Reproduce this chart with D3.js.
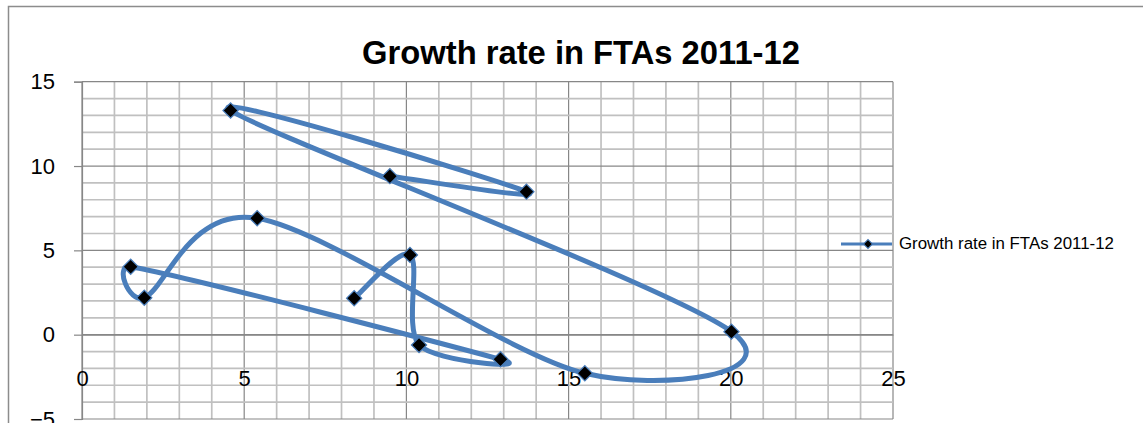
<!DOCTYPE html>
<html>
<head>
<meta charset="utf-8">
<script src="https://cdn.jsdelivr.net/npm/d3@7"></script>
<style>
  html, body { margin: 0; padding: 0; background: #fff; }
  svg { display: block; font-family: "Liberation Sans", Arial, sans-serif; }
</style>
</head>
<body>
<svg id="chart" width="1143" height="423"></svg>
<script>
// Series points, in plotting order
const seriesName = "Growth rate in FTAs 2011-12";
const xValues = [9.49, 13.70, 4.58, 20.02, 15.50, 5.40, 1.92, 1.50, 12.90, 10.39, 10.11, 8.39];
const yValues = [9.40, 8.48, 13.29, 0.18, -2.29, 6.90, 2.19, 4.03, -1.46, -0.61, 4.73, 2.16];
const xTicks = [0, 5, 10, 15, 20, 25];
const yTicks = [-5, 0, 5, 10, 15];

const svg = d3.select("#chart");

const x = d3.scaleLinear().domain([0, 25]).range([82, 893]);
const y = d3.scaleLinear().domain([-5, 15]).range([419, 81.7]);

// chart frame (runs past the right and bottom edges)
svg.append("rect")
  .attr("x", 8.5).attr("y", 6.5)
  .attr("width", 1160).attr("height", 430)
  .attr("fill", "#fff").attr("stroke", "#8c8c8c").attr("stroke-width", 1.5);

// gridlines every unit, darker every five
const g = svg.append("g");
g.selectAll("line.v").data(d3.range(0, 26)).join("line")
  .attr("x1", d => x(d)).attr("x2", d => x(d))
  .attr("y1", y(15)).attr("y2", y(-5))
  .attr("stroke", d => d % 5 === 0 ? "#878787" : "#c0c0c0")
  .attr("stroke-width", d => d % 5 === 0 ? 1.2 : 1.7);
g.selectAll("line.h").data(d3.range(-5, 16)).join("line")
  .attr("y1", d => y(d)).attr("y2", d => y(d))
  .attr("x1", x(0)).attr("x2", x(25))
  .attr("stroke", d => d % 5 === 0 ? "#878787" : "#c0c0c0")
  .attr("stroke-width", d => d % 5 === 0 ? 1.2 : 1.7);

// y axis with outside ticks
const yAxis = d3.axisLeft(y).tickValues(yTicks).tickSize(8).tickPadding(19);
const ya = svg.append("g").attr("transform", `translate(${x(0)},0)`).call(yAxis);
ya.select(".domain").attr("stroke", "#878787").attr("stroke-width", 1.2);
ya.selectAll(".tick line").attr("stroke", "#878787").attr("stroke-width", 1.2);
ya.selectAll(".tick text").attr("font-size", 22).attr("fill", "#000")
  .attr("font-family", "Liberation Sans, Arial, sans-serif");

// x axis line at y = 0; labels sit lower in the plot
const xAxis = d3.axisBottom(x).tickValues(xTicks).tickSize(0).tickPadding(0);
const xa = svg.append("g").attr("transform", `translate(0,${y(0)})`).call(xAxis);
xa.select(".domain").attr("stroke", "#878787").attr("stroke-width", 1.2);
xa.selectAll(".tick text").attr("font-size", 22).attr("fill", "#000")
  .attr("font-family", "Liberation Sans, Arial, sans-serif")
  .attr("dy", null).attr("y", 51);

// smoothed line, Bezier control points built from neighbouring points
function smoothPath(pts) {
  const p = d3.path();
  const n = pts.length;
  const dist = (a, b) => Math.hypot(a[0] - b[0], a[1] - b[1]);
  p.moveTo(pts[0][0], pts[0][1]);
  for (let i = 0; i < n - 1; i++) {
    const p0 = pts[Math.max(i - 1, 0)];
    const p1 = pts[i];
    const p2 = pts[i + 1];
    const p3 = pts[Math.min(i + 2, n - 1)];
    const d12 = dist(p1, p2);
    const d02 = dist(p0, p2);
    const d13 = dist(p1, p3);
    let f1 = 1 / 6, f2 = 1 / 6;
    if (d02 / 6 >= d12 / 2 && d02 > 0) f1 = d12 / d02 / 2;
    if (d13 / 6 >= d12 / 2 && d13 > 0) f2 = d12 / d13 / 2;
    const c1 = [p1[0] + (p2[0] - p0[0]) * f1, p1[1] + (p2[1] - p0[1]) * f1];
    const c2 = [p2[0] - (p3[0] - p1[0]) * f2, p2[1] - (p3[1] - p1[1]) * f2];
    p.bezierCurveTo(c1[0], c1[1], c2[0], c2[1], p2[0], p2[1]);
  }
  return p.toString();
}

const pts = xValues.map((v, i) => [x(v), y(yValues[i])]);
const lineColor = "#4a7ebb";

svg.append("path")
  .attr("d", smoothPath(pts))
  .attr("fill", "none")
  .attr("stroke", lineColor)
  .attr("stroke-width", 5)
  .attr("stroke-linejoin", "round")
  .attr("stroke-linecap", "round");

svg.selectAll("path.marker").data(pts).join("path")
  .attr("class", "marker")
  .attr("d", d3.symbol().type(d3.symbolSquare).size(115)())
  .attr("transform", d => `translate(${d[0]},${d[1]}) rotate(45)`)
  .attr("fill", "#000")
  .attr("stroke", lineColor)
  .attr("stroke-width", 1.2);

// title
const title = svg.append("text")
  .attr("x", 581).attr("y", 64)
  .attr("text-anchor", "middle")
  .attr("font-weight", "bold")
  .attr("font-size", 28)
  .attr("fill", "#000")
  .text(seriesName);
{
  const w = title.node().getComputedTextLength();
  title.attr("font-size", 28 * 438 / w);
}

// legend
const lg = svg.append("g");
lg.append("line").attr("x1", 841).attr("x2", 892).attr("y1", 244).attr("y2", 244)
  .attr("stroke", lineColor).attr("stroke-width", 3);
lg.append("path")
  .attr("d", d3.symbol().type(d3.symbolSquare).size(40)())
  .attr("transform", "translate(868,244) rotate(45)")
  .attr("fill", "#000").attr("stroke", lineColor).attr("stroke-width", 1);
const lt = lg.append("text").attr("x", 899).attr("y", 249)
  .attr("font-size", 14).attr("fill", "#000").text(seriesName);
{
  const w = lt.node().getComputedTextLength();
  lt.attr("font-size", 14 * 215 / w);
}
</script>
</body>
</html>
